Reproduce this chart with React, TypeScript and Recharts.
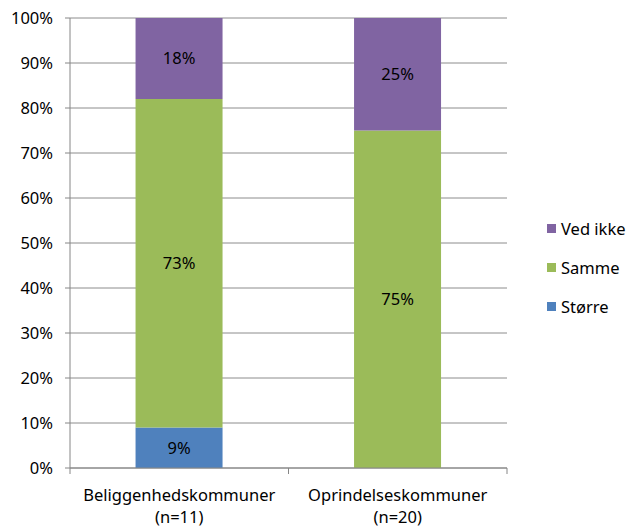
import * as React from 'react'
import { BarChart, Bar, XAxis, YAxis, CartesianGrid, Legend, LabelList } from 'recharts'

const categories = ['Beliggenhedskommuner', 'Oprindelseskommuner']
const sampleSizes = ['(n=11)', '(n=20)']
const storre = [9, 0]
const samme = [73, 75]
const vedIkke = [18, 25]
const yTicks = [0, 10, 20, 30, 40, 50, 60, 70, 80, 90, 100]

const series = [
	{ key: 'vedIkke', name: 'Ved ikke', color: '#8064A2' },
	{ key: 'samme', name: 'Samme', color: '#9BBB59' },
	{ key: 'storre', name: 'Større', color: '#4F81BD' },
]

const data = categories.map((c, i) => ({
	name: c,
	n: sampleSizes[i],
	storre: storre[i],
	samme: samme[i],
	vedIkke: vedIkke[i],
}))

const font = '"Noto Sans", sans-serif'
const fs = 16.5
const axisColor = '#868686'

// tick marks sit on the category edges, so draw them from the band width
const CategoryTick = (props: any) => {
	const { x, y, payload, index, width, visibleTicksCount } = props
	const half = width / visibleTicksCount / 2
	const last = index === visibleTicksCount - 1
	return (
		<g>
			<line x1={x - half} x2={x - half} y1={y} y2={y + 6} stroke={axisColor} />
			{last && <line x1={x + half} x2={x + half} y1={y} y2={y + 6} stroke={axisColor} />}
			<text x={x} y={y} textAnchor="middle" fill="#000" fontSize={fs} fontFamily={font}>
				<tspan x={x} dy={33}>{payload.value}</tspan>
				<tspan x={x} dy={22}>{sampleSizes[index]}</tspan>
			</text>
		</g>
	)
}

const LegendContent = () => (
	<div style={{ fontFamily: font, fontSize: fs }}>
		{series.map((s) => (
			<div key={s.key} style={{ display: 'flex', alignItems: 'center', height: 39 }}>
				<span style={{ width: 9, height: 9, background: s.color, marginRight: 5 }} />
				<span>{s.name}</span>
			</div>
		))}
	</div>
)

const pct = (v: any) => (v ? `${v}%` : '')

export default function App() {
	return (
		<div style={{ position: 'absolute', left: 0, top: 0 }}>
			<BarChart
				width={631}
				height={529}
				data={data}
				margin={{ top: 18, right: 38, left: 0, bottom: 0 }}
				barCategoryGap="30%"
			>
				<CartesianGrid vertical={false} stroke="#8c8c8c" />
				<XAxis
					dataKey="name"
					height={61}
					tickLine={false}
					tickSize={0}
					tickMargin={0}
					axisLine={{ stroke: axisColor }}
					tick={<CategoryTick />}
					interval={0}
				/>
				<YAxis
					width={70}
					domain={[0, 100]}
					ticks={yTicks}
					tickFormatter={(v) => `${v}%`}
					axisLine={{ stroke: axisColor }}
					tickLine={{ stroke: axisColor }}
					tickSize={5}
					tickMargin={12}
					tick={{ fill: '#000', fontSize: fs, fontFamily: font }}
				/>
				<Legend
					layout="vertical"
					align="right"
					verticalAlign="middle"
					content={<LegendContent />}
					wrapperStyle={{ width: 86, left: 547, top: 209 }}
				/>
				{[...series].reverse().map((s) => (
					<Bar
						key={s.key}
						dataKey={s.key}
						name={s.name}
						stackId="a"
						fill={s.color}
						isAnimationActive={false}
					>
						<LabelList
							dataKey={s.key}
							position="center"
							formatter={pct}
							fill="#000"
							fontSize={fs}
							fontFamily={font}
						/>
					</Bar>
				))}
			</BarChart>
		</div>
	)
}
